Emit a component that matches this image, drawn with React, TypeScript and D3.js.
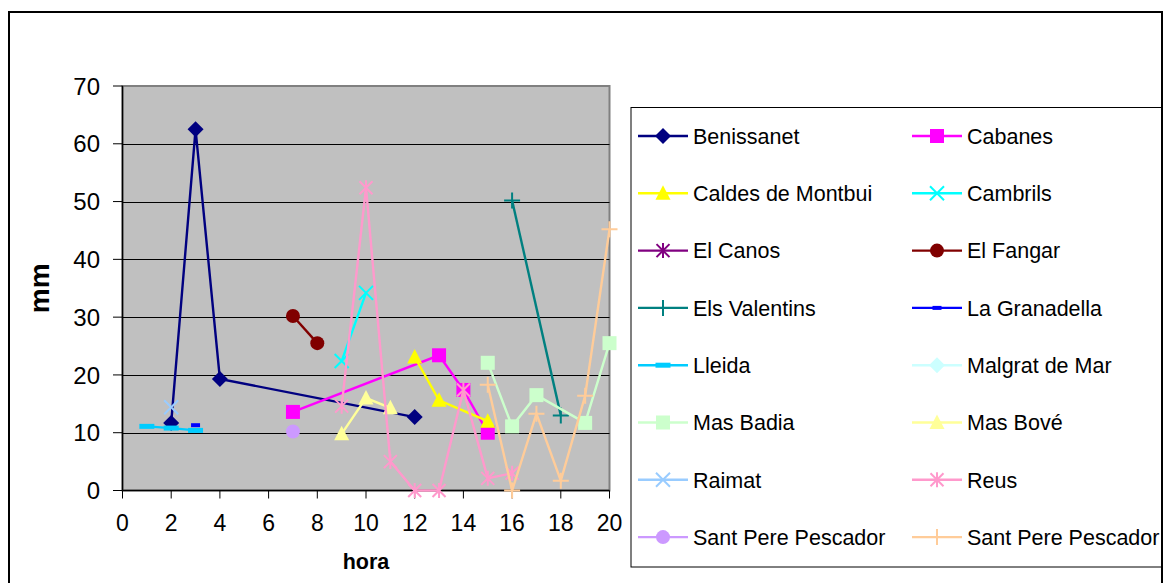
import * as d3 from 'd3'

type Pt = [number, number]
type Marker = 'diamond' | 'square' | 'triangle' | 'x' | 'asterisk' | 'circle' | 'plus' | 'dash' | 'smalldash'

// hora, mm
const benissanet: Pt[] = [[2, 11.7], [3, 62.5], [4, 19.3], [12, 12.7]]
const cabanes: Pt[] = [[7, 13.6], [13, 23.4], [14, 17.4], [15, 10.0]]
const caldesDeMontbui: Pt[] = [[12, 23.1], [13, 15.6], [15, 12.0]]
const cambrils: Pt[] = [[9, 22.4], [10, 34.2]]
const elCanos: Pt[] = []
const elFangar: Pt[] = [[7, 30.2], [8, 25.5]]
const elsValentins: Pt[] = [[16, 50.2], [18, 13.0]]
const laGranadella: Pt[] = [[3, 11.3]]
const lleida: Pt[] = [[1, 11.1], [2, 10.8], [3, 10.4]]
const malgratDeMar: Pt[] = []
const masBadia: Pt[] = [[15, 22.1], [16, 11.1], [17, 16.5], [19, 11.7], [20, 25.5]]
const masBove: Pt[] = [[9, 9.8], [10, 16.0], [11, 14.3]]
const raimat: Pt[] = [[2, 14.4]]
const reus: Pt[] = [[9, 14.6], [10, 52.4], [11, 5.0], [12, 0], [13, 0], [14, 17.4], [15, 2.1], [16, 3.0]]
const santPereCircle: Pt[] = [[7, 10.2]]
const santPerePlus: Pt[] = [[15, 18.3], [16, 0], [17, 13.3], [18, 1.7], [19, 16.4], [20, 45.2]]

const series: { name: string; color: string; marker: Marker; data: Pt[] }[] = [
  { name: 'Benissanet', color: '#000080', marker: 'diamond', data: benissanet },
  { name: 'Cabanes', color: '#FF00FF', marker: 'square', data: cabanes },
  { name: 'Caldes de Montbui', color: '#FFFF00', marker: 'triangle', data: caldesDeMontbui },
  { name: 'Cambrils', color: '#00FFFF', marker: 'x', data: cambrils },
  { name: 'El Canos', color: '#800080', marker: 'asterisk', data: elCanos },
  { name: 'El Fangar', color: '#800000', marker: 'circle', data: elFangar },
  { name: 'Els Valentins', color: '#008080', marker: 'plus', data: elsValentins },
  { name: 'La Granadella', color: '#0000FF', marker: 'smalldash', data: laGranadella },
  { name: 'Lleida', color: '#00CCFF', marker: 'dash', data: lleida },
  { name: 'Malgrat de Mar', color: '#CCFFFF', marker: 'diamond', data: malgratDeMar },
  { name: 'Mas Badia', color: '#CCFFCC', marker: 'square', data: masBadia },
  { name: 'Mas Bové', color: '#FFFF99', marker: 'triangle', data: masBove },
  { name: 'Raimat', color: '#99CCFF', marker: 'x', data: raimat },
  { name: 'Reus', color: '#FF99CC', marker: 'asterisk', data: reus },
  { name: 'Sant Pere Pescador', color: '#CC99FF', marker: 'circle', data: santPereCircle },
  { name: 'Sant Pere Pescador', color: '#FFCC99', marker: 'plus', data: santPerePlus },
]

const xTicks = [0, 2, 4, 6, 8, 10, 12, 14, 16, 18, 20]
const yTicks = [0, 10, 20, 30, 40, 50, 60, 70]

const W = 1165
const H = 583
const plot = { left: 122.5, top: 86, right: 609.5, bottom: 490.5 }
const FONT = '"Liberation Sans", Arial, sans-serif'

function MarkerShape({ kind, color, cx, cy }: { kind: Marker; color: string; cx: number; cy: number }) {
  switch (kind) {
    case 'diamond':
      return <path d={`M${cx},${cy - 8}L${cx + 8},${cy}L${cx},${cy + 8}L${cx - 8},${cy}Z`} fill={color} />
    case 'square':
      return <rect x={cx - 7} y={cy - 7} width={14} height={14} fill={color} />
    case 'triangle':
      return <path d={`M${cx},${cy - 8}L${cx + 7.5},${cy + 6.5}L${cx - 7.5},${cy + 6.5}Z`} fill={color} />
    case 'circle':
      return <circle cx={cx} cy={cy} r={7} fill={color} />
    case 'x':
      return <path d={`M${cx - 7},${cy - 7}L${cx + 7},${cy + 7}M${cx - 7},${cy + 7}L${cx + 7},${cy - 7}`} stroke={color} strokeWidth={2} />
    case 'asterisk':
      return <path d={`M${cx - 6.5},${cy - 6.5}L${cx + 6.5},${cy + 6.5}M${cx - 6.5},${cy + 6.5}L${cx + 6.5},${cy - 6.5}M${cx},${cy - 7.5}L${cx},${cy + 7.5}`} stroke={color} strokeWidth={2} />
    case 'plus':
      return <path d={`M${cx - 8},${cy}L${cx + 8},${cy}M${cx},${cy - 8}L${cx},${cy + 8}`} stroke={color} strokeWidth={2} />
    case 'dash':
      return <rect x={cx - 7.5} y={cy - 2.5} width={15} height={5} fill={color} />
    case 'smalldash':
      return <rect x={cx - 4.5} y={cy - 2} width={9} height={4} fill={color} />
  }
}

export default function App() {
  const x = d3.scaleLinear().domain([0, 20]).range([plot.left, plot.right])
  const y = d3.scaleLinear().domain([0, 70]).range([plot.bottom, plot.top])
  const line = d3.line<Pt>().x(d => x(d[0])).y(d => y(d[1]))

  const rowY = d3.scaleLinear().domain([0, 1]).range([136, 193.3])
  const colX = [638, 912]

  return (
    <svg width={W} height={H} style={{ position: 'absolute', left: 0, top: 0, background: '#fff' }} fontFamily={FONT}>
      {/* outer frame */}
      <rect x={9} y={12} width={1153} height={H} fill="#fff" stroke="#000" strokeWidth={2} />

      {/* plot area */}
      <rect x={plot.left} y={plot.top} width={plot.right - plot.left} height={plot.bottom - plot.top} fill="#C0C0C0" stroke="#808080" strokeWidth={2} />
      {yTicks.filter(t => t > 0 && t < 70).map(t => (
        <line key={t} x1={plot.left} x2={plot.right} y1={Math.round(y(t)) + 0.5} y2={Math.round(y(t)) + 0.5} stroke="#000" strokeWidth={1} />
      ))}

      {/* axes */}
      <line x1={plot.left} x2={plot.left} y1={plot.top} y2={plot.bottom} stroke="#000" strokeWidth={1.5} />
      <line x1={plot.left} x2={plot.right} y1={plot.bottom} y2={plot.bottom} stroke="#000" strokeWidth={1.5} />
      {yTicks.map(t => (
        <g key={t}>
          <line x1={113} x2={plot.left} y1={y(t)} y2={y(t)} stroke="#000" />
          <text x={100} y={y(t)} dy="0.36em" textAnchor="end" fontSize={24}>{t}</text>
        </g>
      ))}
      {xTicks.map(t => (
        <g key={t}>
          <line x1={x(t)} x2={x(t)} y1={plot.bottom} y2={plot.bottom + 8} stroke="#000" />
          <text x={x(t)} y={523} dy="0.36em" textAnchor="middle" fontSize={23}>{t}</text>
        </g>
      ))}
      <text transform={`translate(39,${(plot.top + plot.bottom) / 2}) rotate(-90)`} textAnchor="middle" dy="0.36em" fontSize={28} fontWeight="bold">mm</text>
      <text x={(plot.left + plot.right) / 2} y={569} textAnchor="middle" fontSize={21.5} fontWeight="bold">hora</text>

      {/* series */}
      {series.map((s, i) => (
        <g key={i}>
          {s.data.length > 1 && <path d={line(s.data) ?? ''} fill="none" stroke={s.color} strokeWidth={2.4} />}
          {s.data.map((p, j) => (
            <MarkerShape key={j} kind={s.marker} color={s.color} cx={x(p[0])} cy={y(p[1])} />
          ))}
        </g>
      ))}

      {/* legend */}
      <rect x={631} y={107.5} width={531} height={459.5} fill="none" stroke="#000" strokeWidth={1} />
      {series.map((s, i) => {
        const cx0 = colX[i % 2]
        const cy = rowY(Math.floor(i / 2))
        return (
          <g key={i}>
            <line x1={cx0} x2={cx0 + 50} y1={cy} y2={cy} stroke={s.color} strokeWidth={2.4} />
            <MarkerShape kind={s.marker} color={s.color} cx={cx0 + 25} cy={cy} />
            <text x={cx0 + 55} y={cy} dy="0.36em" fontSize={21.5}>{s.name}</text>
          </g>
        )
      })}
    </svg>
  )
}
